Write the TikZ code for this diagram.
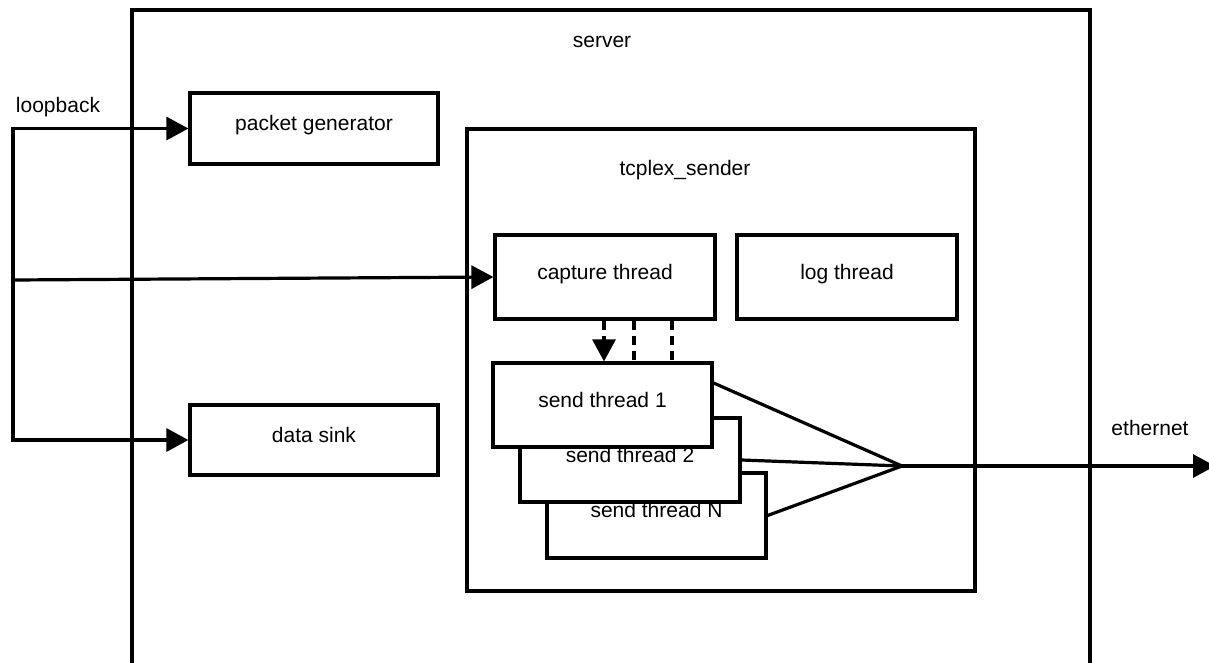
\documentclass[tikz,border=0pt]{standalone}
\usepackage{fontspec}
\setmainfont{Liberation Sans}
\usetikzlibrary{arrows.meta}
\begin{document}
\begin{tikzpicture}[x=1pt,y=-1pt,
  every node/.style={font=\fontsize{21}{25}\selectfont},
  wire/.style={line width=3.2pt},
  tip/.style={-{Triangle[length=22pt,width=23pt]}},
  dashwire/.style={line width=3.2pt,dash pattern=on 9pt off 6pt},
  box/.style={draw,line width=3.2pt,fill=white,rectangle,inner sep=0pt,
    text height=12pt,text depth=8pt},
  label/.style={anchor=base,inner sep=0pt}
]
\useasboundingbox (0,0) rectangle (1209,662);

% server frame (open at the bottom of the page)
\draw[wire] (132,680) -- (132,10) -- (1090,10) -- (1090,680);
\node[label] (srvlabel) at (602,47) {server};

% external blocks
\node[box,minimum width=248,minimum height=71] (pg) at (314,128.5) {packet generator};
\node[box,minimum width=248,minimum height=70] (ds) at (314,440) {data sink};

% tcplex_sender process
\node[box,minimum width=508,minimum height=462] (tcp) at (721,360) {};
\node[label] (tcplbl) at (685,175) {tcplex\_sender};
\node[box,minimum width=220,minimum height=84] (cap) at (605,277) {capture thread};
\node[box,minimum width=220,minimum height=84] (log) at (847,277) {log thread};

% stacked send threads
\node[box,minimum width=219,minimum height=85] (stN) at (656.5,515.5) {send thread N};
\node[box,minimum width=220,minimum height=84] (st2) at (630,460) {send thread 2};
\node[box,minimum width=219,minimum height=84] (st1) at (602.5,405) {send thread 1};

% loopback interface
\coordinate (lbmid) at (13,280);
\node[label] (lblbl) at (58,112) {loopback};
\draw[wire,{Triangle[length=22pt,width=23pt]}-{Triangle[length=22pt,width=23pt]}]
  (pg.west) -| (lbmid) |- (ds.west);
\draw[wire,tip] (lbmid) -- (cap.west);

% capture thread hands packets to the send threads
\coordinate (dx1) at (604,0);
\coordinate (dx2) at (634,0);
\coordinate (dx3) at (672,0);
\draw[dashwire,tip] (cap.south -| dx1) -- (st1.north -| dx1);
\draw[dashwire] (cap.south -| dx2) -- (st1.north -| dx2);
\draw[dashwire] (cap.south -| dx3) -- (st1.north -| dx3);

% send threads merge onto ethernet
\coordinate (merge) at (902,466);
\coordinate (y1) at (0,383);
\coordinate (eth) at (1215,466);
\draw[wire] (st1.east |- y1) -- (merge);
\draw[wire] (st2.east) -- (merge);
\draw[wire] (stN.east) -- (merge);
\draw[wire,tip] (merge) -- (eth);
\node[label] (ethlbl) at (1150,435) {ethernet};
\end{tikzpicture}
\end{document}
